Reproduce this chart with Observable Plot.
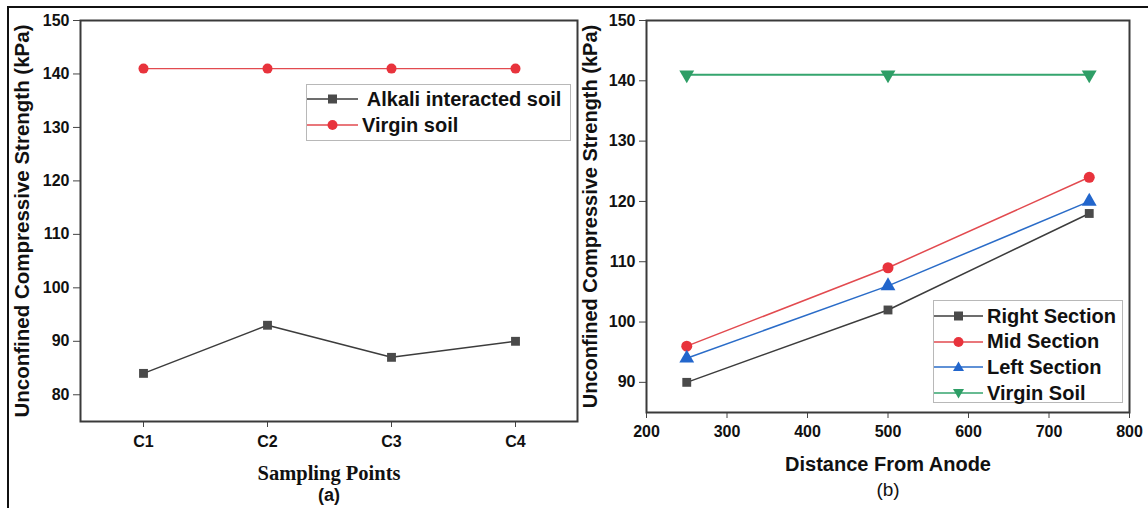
<!DOCTYPE html>
<html>
<head>
<meta charset="utf-8">
<script src="https://cdn.jsdelivr.net/npm/d3@7"></script>
<script src="https://cdn.jsdelivr.net/npm/@observablehq/plot@0.6"></script>
<style>
  body { margin: 0; background: #fff; width: 1148px; height: 508px; overflow: hidden; position: relative;
         font-family: "Liberation Sans", Arial, sans-serif; }
  #border { position: absolute; left: 7px; top: 6px; width: 1200px; height: 600px;
            border-top: 2px solid #111; border-left: 2px solid #111; }
  #pa { position: absolute; left: 0; top: 0; }
  #pb { position: absolute; left: 580px; top: 0; }
  .legend { position: absolute; background: #fff; border: 1px solid #b8b8b8; box-sizing: border-box;
            font-weight: bold; font-size: 20px; color: #111; }
  .row { position: absolute; left: 0; display: flex; align-items: center; height: 26px; white-space: pre; }
  .row svg { display: block; margin-right: 4px; }
</style>
</head>
<body>
<div id="border"></div>
<div id="pa"></div>
<div id="pb"></div>
<script>
// ---- data: panel (a) ----
const samplingPoints = ["C1", "C2", "C3", "C4"];
const alkaliSoil = [84, 93, 87, 90];
const virginSoilA = [141, 141, 141, 141];
const yTicksA = [80, 90, 100, 110, 120, 130, 140, 150];

// ---- data: panel (b) ----
const distances = [250, 500, 750];
const rightSection = [90, 102, 118];
const midSection = [96, 109, 124];
const leftSection = [94, 106, 120];
const virginSoilB = [141, 141, 141];
const xTicksB = [200, 300, 400, 500, 600, 700, 800];
const yTicksB = [90, 100, 110, 120, 130, 140, 150];

const yTitle = "Unconfined Compressive Strength (kPa)";

const grey = "#3c3c3c", greyM = "#4a4a4a";
const red = "#e24a4f", redM = "#e8333c";
const blue = "#2a6cc8", blueM = "#2266cc";
const green = "#35a56e", greenM = "#2e9e66";

const sans = "'Liberation Sans', Arial, sans-serif";

// ---- panel (a) ----
const alkRows = samplingPoints.map((p, i) => ({x: p, y: alkaliSoil[i]}));
const virARows = samplingPoints.map((p, i) => ({x: p, y: virginSoilA[i]}));

const plotA = Plot.plot({
  width: 580, height: 508,
  marginLeft: 80, marginRight: 3, marginTop: 20, marginBottom: 87,
  style: {fontFamily: sans, fontWeight: "bold", fontSize: "16px", color: "#111", background: "transparent", overflow: "visible"},
  x: {type: "point", domain: samplingPoints, padding: 0.5, label: null},
  y: {domain: [75, 150], label: null},
  marks: [
    Plot.axisX({ticks: samplingPoints, tickSize: 6, tickPadding: 8, label: null, stroke: "#444"}),
    Plot.axisY({ticks: yTicksA, tickSize: 7, tickPadding: 4, label: null, stroke: "#444"}),
    Plot.line(virARows, {x: "x", y: "y", stroke: red, strokeWidth: 1.2}),
    Plot.dot(virARows, {x: "x", y: "y", r: 5, fill: redM, stroke: "none"}),
    Plot.line(alkRows, {x: "x", y: "y", stroke: grey, strokeWidth: 1.5}),
    Plot.dot(alkRows, {x: "x", y: "y", symbol: "square", r: 5, fill: greyM, stroke: "none"}),
    Plot.frame({stroke: "#3a3a3a", strokeWidth: 2}),
    Plot.text([yTitle], {text: d => d, frameAnchor: "left", rotate: -90, dx: -58, textAnchor: "middle", lineAnchor: "middle",
                         fontSize: 20.5, fontWeight: "bold", fill: "#111"}),
    Plot.text(["Sampling Points"], {text: d => d, frameAnchor: "bottom", dy: 52, textAnchor: "middle", lineAnchor: "middle",
                         fontSize: 20.5, fontWeight: "bold", fontFamily: "'Liberation Serif', 'Times New Roman', serif", fill: "#111"}),
    Plot.text(["(a)"], {text: d => d, frameAnchor: "bottom", dy: 74, textAnchor: "middle", lineAnchor: "middle",
                         fontSize: 18, fontWeight: "bold", fontFamily: "'Liberation Sans Narrow', 'Liberation Sans', sans-serif", fill: "#111"})
  ]
});
document.getElementById("pa").appendChild(plotA);

// ---- panel (b) ----
const mk = (vals) => distances.map((d, i) => ({x: d, y: vals[i]}));
const rRows = mk(rightSection), mRows = mk(midSection), lRows = mk(leftSection), vRows = mk(virginSoilB);

const plotB = Plot.plot({
  width: 568, height: 508,
  marginLeft: 66, marginRight: 19, marginTop: 20, marginBottom: 96,
  style: {fontFamily: sans, fontWeight: "bold", fontSize: "16px", color: "#111", background: "transparent", overflow: "visible"},
  x: {domain: [200, 800], label: null},
  y: {domain: [85, 150], label: null},
  marks: [
    Plot.axisX({ticks: xTicksB, tickSize: 6, tickPadding: 7, label: null, stroke: "#444"}),
    Plot.axisY({ticks: yTicksB, tickSize: 7, tickPadding: 4, label: null, stroke: "#444"}),
    Plot.line(vRows, {x: "x", y: "y", stroke: green, strokeWidth: 2}),
    Plot.dot(vRows, {x: "x", y: "y", symbol: "triangle", rotate: 180, r: 5.5, fill: greenM, stroke: "none"}),
    Plot.line(rRows, {x: "x", y: "y", stroke: grey, strokeWidth: 1.5}),
    Plot.line(lRows, {x: "x", y: "y", stroke: blue, strokeWidth: 1.5}),
    Plot.line(mRows, {x: "x", y: "y", stroke: red, strokeWidth: 1.5}),
    Plot.dot(rRows, {x: "x", y: "y", symbol: "square", r: 5, fill: greyM, stroke: "none"}),
    Plot.dot(mRows, {x: "x", y: "y", r: 5.5, fill: redM, stroke: "none"}),
    Plot.dot(lRows, {x: "x", y: "y", symbol: "triangle", r: 5.5, fill: blueM, stroke: "none"}),
    Plot.frame({stroke: "#3a3a3a", strokeWidth: 2}),
    Plot.text([yTitle], {text: d => d, frameAnchor: "left", rotate: -90, dx: -56, textAnchor: "middle", lineAnchor: "middle",
                         fontSize: 20, fontWeight: "bold", fill: "#111"}),
    Plot.text(["Distance From Anode"], {text: d => d, frameAnchor: "bottom", dy: 52, textAnchor: "middle", lineAnchor: "middle",
                         fontSize: 20, fontWeight: "bold", fill: "#111"}),
    Plot.text(["(b)"], {text: d => d, frameAnchor: "bottom", dy: 77, textAnchor: "middle", lineAnchor: "middle",
                         fontSize: 19, fontWeight: "normal", fontFamily: "'Liberation Sans Narrow', 'Liberation Sans', sans-serif", fill: "#111"})
  ]
});
document.getElementById("pb").appendChild(plotB);

// ---- legends ----
function swatch(w, line, fill, shape) {
  const h = 26, cx = w / 2, cy = h / 2;
  let m = "";
  if (shape === "square") m = `<rect x="${cx - 4.5}" y="${cy - 4.5}" width="9" height="9" fill="${fill}"/>`;
  else if (shape === "circle") m = `<circle cx="${cx}" cy="${cy}" r="5" fill="${fill}"/>`;
  else if (shape === "up") m = `<path d="M${cx},${cy - 5.5}L${cx + 5.5},${cy + 4}L${cx - 5.5},${cy + 4}Z" fill="${fill}"/>`;
  else m = `<path d="M${cx},${cy + 5.5}L${cx + 5.5},${cy - 4}L${cx - 5.5},${cy - 4}Z" fill="${fill}"/>`;
  return `<svg width="${w}" height="${h}"><line x1="0" x2="${w}" y1="${cy}" y2="${cy}" stroke="${line}" stroke-width="1.5"/>${m}</svg>`;
}
function legend(left, top, width, height, items, swW, firstY, step) {
  const div = document.createElement("div");
  div.className = "legend";
  Object.assign(div.style, {left: left + "px", top: top + "px", width: width + "px", height: height + "px"});
  items.forEach((it, i) => {
    const r = document.createElement("div");
    r.className = "row";
    r.style.top = (firstY + i * step - 13) + "px";
    r.innerHTML = swatch(swW, it.line, it.fill, it.shape) + `<span>${it.label}</span>`;
    div.appendChild(r);
  });
  document.body.appendChild(div);
}
legend(306, 84, 265, 57, [
  {label: " Alkali interacted soil", line: grey, fill: greyM, shape: "square"},
  {label: "Virgin soil", line: red, fill: redM, shape: "circle"}
], 51, 14, 26);
legend(933, 300, 190, 103, [
  {label: "Right Section", line: grey, fill: greyM, shape: "square"},
  {label: "Mid Section", line: red, fill: redM, shape: "circle"},
  {label: "Left Section", line: blue, fill: blueM, shape: "up"},
  {label: "Virgin Soil", line: green, fill: greenM, shape: "down"}
], 49, 15, 25.7);
</script>
</body>
</html>
